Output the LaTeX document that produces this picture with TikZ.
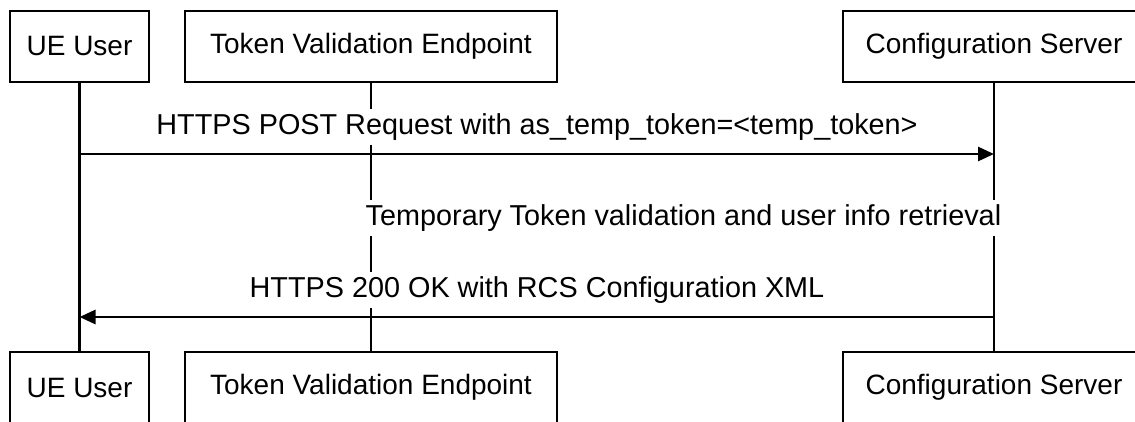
\documentclass[tikz,border=0pt]{standalone}
\usepackage{fontspec}
\setmainfont{Liberation Sans}
\usetikzlibrary{arrows.meta}
\begin{document}
\begin{tikzpicture}[x=1pt,y=-1pt,
  actor/.style={draw=black, line width=2.8pt, fill=white, minimum height=71pt, inner sep=0pt, font=\fontsize{28}{32}\selectfont},
  msglabel/.style={fill=white, inner xsep=1pt, inner ysep=0pt, minimum height=36pt, font=\fontsize{28.8}{32}\selectfont},
  life/.style={line width=2.8pt},
  msg/.style={line width=2.8pt, -{Triangle[length=16pt,width=14pt]}}]
\useasboundingbox (0,0) rectangle (1135,421);
% top actors
\node[actor, minimum width=139pt] (ue) at (79.5,46.5) {UE User};
\node[actor, minimum width=372pt] (tv) at (371,46.5) {Token Validation Endpoint};
\node[actor, minimum width=302pt] (cs) at (994,46.5) {Configuration Server};
% bottom actors
\node[actor, minimum width=139pt] (ueb) at (79.5,387.5) {UE User};
\node[actor, minimum width=372pt] (tvb) at (371,387.5) {Token Validation Endpoint};
\node[actor, minimum width=302pt] (csb) at (994,387.5) {Configuration Server};
% lifelines
\draw[life] (ue.south) -- (ueb.north);
\draw[life] (tv.south) -- (tvb.north);
\draw[life] (cs.south) -- (csb.north);
% message labels
\node[msglabel] (l1) at (537,127) {HTTPS POST Request with as\_temp\_token=<temp\_token>};
\node[msglabel] (l2) at (683.5,218) {Temporary Token validation and user info retrieval};
\node[msglabel] (l3) at (537,290) {HTTPS 200 OK with RCS Configuration XML};
% message arrows
\coordinate (y1) at (0,154);
\coordinate (y3) at (0,317);
\draw[msg] (ue.south |- y1) -- (cs.south |- y1);
\draw[msg] (cs.south |- y3) -- (ue.south |- y3);
% redraw actor boxes on top
\node[actor, minimum width=139pt] at (ue) {UE User};
\node[actor, minimum width=372pt] at (tv) {Token Validation Endpoint};
\node[actor, minimum width=302pt] at (cs) {Configuration Server};
\node[actor, minimum width=139pt] at (ueb) {UE User};
\node[actor, minimum width=372pt] at (tvb) {Token Validation Endpoint};
\node[actor, minimum width=302pt] at (csb) {Configuration Server};
\end{tikzpicture}
\end{document}
